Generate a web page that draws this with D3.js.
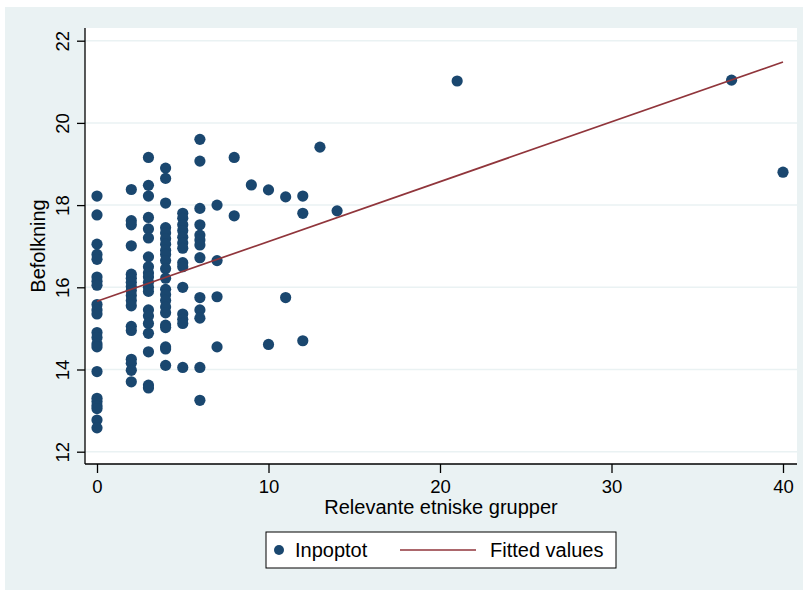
<!DOCTYPE html>
<html>
<head>
<meta charset="utf-8">
<script src="https://cdn.jsdelivr.net/npm/d3@7"></script>
<style>
body { margin: 0; background: #ffffff; }
text { font-family: "Liberation Sans", Arial, sans-serif; fill: #000; }
</style>
</head>
<body>
<svg id="chart" width="806" height="592"></svg>
<script>
// x value of each column of points
var relevante = [0, 2, 3, 4, 5, 6, 7, 8, 9, 10, 11, 12, 13, 14, 21, 37, 40];
// population (log), one list per x value
var befolkning = [
  [18.22, 17.76, 17.05, 16.8, 16.68, 16.25, 16.15, 16.05, 15.58, 15.45, 15.35, 14.9, 14.78, 14.62, 14.55, 13.95, 13.3, 13.22, 13.12, 13.05, 12.77, 12.58],
  [18.38, 17.62, 17.52, 17.01, 16.32, 16.22, 16.12, 16.02, 15.92, 15.8, 15.68, 15.55, 15.05, 14.95, 14.25, 14.15, 13.98, 13.7],
  [19.16, 18.48, 18.22, 17.7, 17.42, 17.2, 16.74, 16.5, 16.35, 16.25, 16.12, 16.0, 15.9, 15.45, 15.3, 15.12, 14.88, 14.43, 13.62, 13.55],
  [18.9, 18.65, 18.05, 17.45, 17.32, 17.18, 17.05, 16.9, 16.8, 16.65, 16.45, 16.22, 15.95, 15.82, 15.68, 15.52, 15.38, 15.08, 15.02, 14.55, 14.5, 14.1],
  [17.8, 17.68, 17.52, 17.38, 17.22, 17.08, 16.95, 16.6, 16.5, 16.0, 15.35, 15.22, 15.12, 14.05],
  [19.6, 19.07, 17.92, 17.52, 17.27, 17.15, 17.03, 16.72, 15.75, 15.45, 15.25, 14.05, 13.25],
  [18.0, 16.65, 15.77, 14.55],
  [19.16, 17.74],
  [18.49],
  [18.37, 14.61],
  [18.2, 15.75],
  [18.22, 17.8, 14.7],
  [19.41],
  [17.86],
  [21.02],
  [21.04],
  [18.8]
];
// fitted values line (lfit)
var fitX = [0, 40];
var fitY = [15.66, 21.48];
var xTicks = [0, 10, 20, 30, 40];
var yTicks = [12, 14, 16, 18, 20, 22];

var svg = d3.select("#chart");

// graph region
svg.append("rect").attr("x", 5).attr("y", 7).attr("width", 798).attr("height", 583).attr("fill", "#eaf2f3");
// plot region
svg.append("rect").attr("x", 85).attr("y", 28).attr("width", 712).attr("height", 436).attr("fill", "#ffffff");

var x = d3.scaleLinear().domain([0, 40]).range([97, 783]);
var y = d3.scaleLinear().domain([12, 22]).range([451.7, 40.7]);

// gridlines
svg.selectAll(".grid").data(yTicks).enter().append("line")
  .attr("x1", 85).attr("x2", 797)
  .attr("y1", d => y(d)).attr("y2", d => y(d))
  .attr("stroke", "#eaf2f3").attr("stroke-width", 1.5);

// y axis
var yAxis = svg.append("g").attr("transform", "translate(85,0)")
  .call(d3.axisLeft(y).tickValues(yTicks).tickSize(8).tickSizeOuter(0));
yAxis.select(".domain").attr("d", "M0,28V464");
yAxis.selectAll("text")
  .attr("font-size", 18.5).attr("x", 0).attr("y", 0).attr("dy", 0)
  .attr("text-anchor", "middle")
  .attr("transform", "translate(-16,0) rotate(-90)");

// x axis
var xAxis = svg.append("g").attr("transform", "translate(0,464)")
  .call(d3.axisBottom(x).tickValues(xTicks).tickSize(9).tickPadding(7).tickSizeOuter(0));
xAxis.select(".domain").attr("d", "M85,0H797");
xAxis.selectAll("text").attr("font-size", 18.5);
svg.selectAll(".domain, .tick line").attr("stroke", "#000").attr("stroke-width", 1.3);

// titles
svg.append("text").attr("x", 441).attr("y", 514).attr("text-anchor", "middle").attr("font-size", 20)
  .text("Relevante etniske grupper");
svg.append("text").attr("transform", "translate(45,246) rotate(-90)").attr("text-anchor", "middle").attr("font-size", 20)
  .text("Befolkning");

// points
var pts = [];
relevante.forEach(function(rv, i) {
  befolkning[i].forEach(function(b) { pts.push([rv, b]); });
});
svg.selectAll(".pt").data(pts).enter().append("circle")
  .attr("cx", d => x(d[0])).attr("cy", d => y(d[1])).attr("r", 5.6)
  .attr("fill", "#1a476f");

// fitted line
var line = d3.line().x(d => x(d[0])).y(d => y(d[1]));
svg.append("path").datum(fitX.map((v, i) => [v, fitY[i]])).attr("d", line)
  .attr("fill", "none").attr("stroke", "#90353b").attr("stroke-width", 1.7);

// legend
var lg = svg.append("g");
lg.append("rect").attr("x", 266).attr("y", 532).attr("width", 350).attr("height", 36)
  .attr("fill", "#fff").attr("stroke", "#000").attr("stroke-width", 1);
lg.append("circle").attr("cx", 279).attr("cy", 550).attr("r", 5).attr("fill", "#1a476f");
lg.append("text").attr("x", 295).attr("y", 557).attr("font-size", 20).text("Inpoptot");
lg.append("line").attr("x1", 400).attr("x2", 476).attr("y1", 550).attr("y2", 550)
  .attr("stroke", "#90353b").attr("stroke-width", 1.7);
lg.append("text").attr("x", 490).attr("y", 557).attr("font-size", 20).text("Fitted values");
</script>
</body>
</html>
